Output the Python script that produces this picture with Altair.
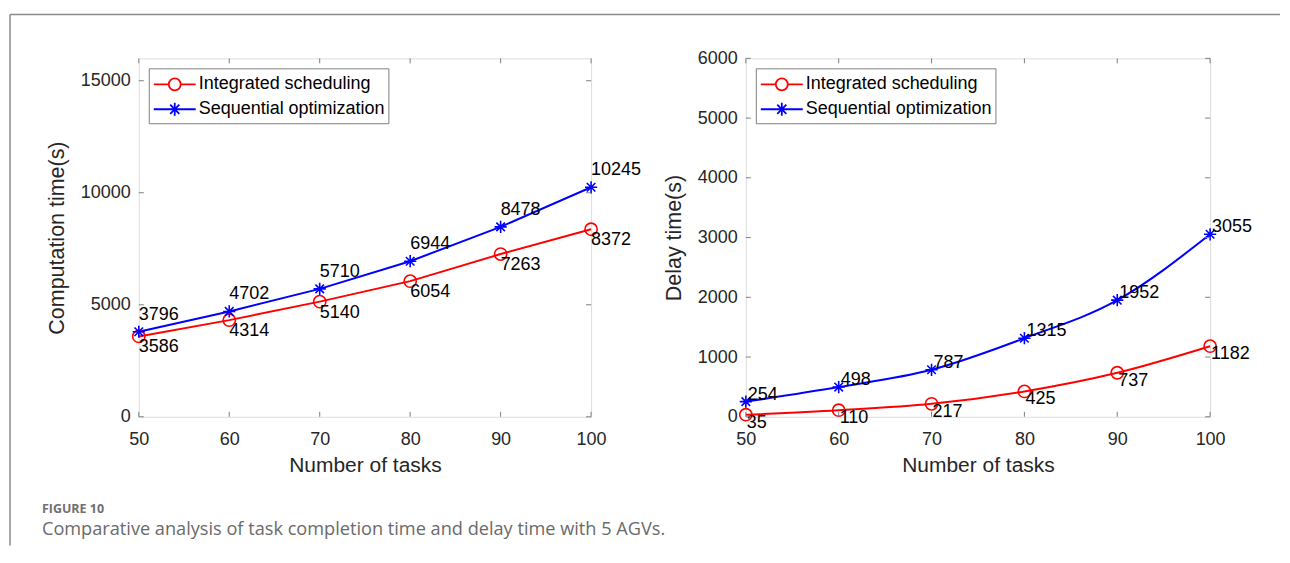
import altair as alt
import pandas as pd

# ---------------- data ----------------
tasks = [50, 60, 70, 80, 90, 100]
series_names = ["Integrated scheduling", "Sequential optimization"]
comp_integrated = [3586, 4314, 5140, 6054, 7263, 8372]
comp_sequential = [3796, 4702, 5710, 6944, 8478, 10245]
delay_integrated = [35, 110, 217, 425, 737, 1182]
delay_sequential = [254, 498, 787, 1315, 1952, 3055]

x_ticks = [50, 60, 70, 80, 90, 100]
comp_y_ticks = [0, 5000, 10000, 15000]
delay_y_ticks = [0, 1000, 2000, 3000, 4000, 5000, 6000]

x_title = "Number of tasks"
comp_y_title = "Computation time(s)"
delay_y_title = "Delay time(s)"
fig_label = "FIGURE 10"
fig_caption = "Comparative analysis of task completion time and delay time with 5 AGVs."

# ---------------- style ----------------
FONT = "Liberation Sans"
AX = "#7f7f7f"
colors = ["#ff0000", "#0000ff"]
H = 359
STAR = "M-1,0H1M0,-1V1M-0.7,-0.7L0.7,0.7M-0.7,0.7L0.7,-0.7"
# legend symbols: unit = 12px (symbolSize 576); line 42px long
LEG_CIRC = ("M-1,0H0.25M1.25,0H2.5M0.25,0A0.5,0.5 0 1 0 1.25,0"
            "A0.5,0.5 0 1 0 0.25,0")
LEG_STAR = ("M-1,0H2.5M0.75,-0.54V0.54M0.37,-0.38L1.13,0.38"
            "M0.37,0.38L1.13,-0.38")


def make_df(int_vals, seq_vals):
    rows = []
    for name, vals in ((series_names[0], int_vals), (series_names[1], seq_vals)):
        for t, v in zip(tasks, vals):
            rows.append({"tasks": t, "value": v, "series": name, "label": str(v)})
    return pd.DataFrame(rows)


def panel(df, y_domain, y_ticks, y_title, width, interp, seq_off, int_off, extra=()):
    xscale = alt.Scale(domain=[50, 100], nice=False, zero=False)
    yscale = alt.Scale(domain=y_domain, nice=False, zero=False)
    x = alt.X("tasks:Q", scale=xscale,
              axis=alt.Axis(values=x_ticks, title=x_title, tickSize=0, domain=False,
                            grid=False, labelPadding=14, titlePadding=6,
                            labelFlush=False, labelOverlap=False,
                            labelFontSize=18, titleFontSize=21, labelFont=FONT,
                            titleFont=FONT, titleFontWeight="normal",
                            labelColor="#262626", titleColor="#262626"))
    y = alt.Y("value:Q", scale=yscale,
              axis=alt.Axis(values=y_ticks, title=y_title, format="d", tickSize=0,
                            domain=False, grid=False, labelPadding=8.5, titlePadding=12,
                            labelFlush=False, labelOverlap=False,
                            labelFontSize=18, titleFontSize=21.5, labelFont=FONT,
                            titleFont=FONT, titleFontWeight="normal",
                            labelColor="#262626", titleColor="#262626"))
    cscale = alt.Scale(domain=series_names, range=colors)
    base = alt.Chart(df)
    int_data = base.transform_filter(alt.datum.series == series_names[0])
    seq_data = base.transform_filter(alt.datum.series == series_names[1])
    legend = alt.Legend(
        title=None, orient="top-left", offset=10, padding=3, strokeColor=AX,
        fillColor="white", labelFontSize=18, labelFont=FONT, labelColor="black",
        labelOffset=20, symbolSize=576, symbolStrokeWidth=1.8, rowPadding=2,
        symbolOffset=1, labelLimit=0, symbolOpacity=1,
    )
    line_int = int_data.mark_line(strokeWidth=2, interpolate=interp,
                                  color=colors[0]).encode(x=x, y=y)
    line_seq = seq_data.mark_line(strokeWidth=2, interpolate=interp,
                                  color=colors[1]).encode(x=x, y=y)
    circles = int_data.mark_point(
        filled=False, size=150, strokeWidth=1.6, opacity=1, shape="circle",
        color=colors[0]).encode(x=x, y=y)
    stars = seq_data.mark_point(
        filled=False, size=150, strokeWidth=1.6, opacity=1, shape=STAR,
        color=colors[1]).encode(x=x, y=y)
    leg = base.transform_filter("false").mark_point(
        filled=False, strokeWidth=1.8, opacity=1).encode(
        x=x, y=y,
        color=alt.Color("series:N", scale=cscale, legend=legend),
        shape=alt.Shape("series:N", scale=alt.Scale(domain=series_names,
                                                     range=[LEG_CIRC, LEG_STAR]),
                        legend=legend))
    seq_labels = seq_data.mark_text(
        align="left", baseline="alphabetic", dx=seq_off[0], dy=seq_off[1],
        fontSize=18, font=FONT, color="black").encode(x=x, y=y, text="label:N")
    int_labels = int_data.mark_text(
        align="left", baseline="alphabetic", dx=int_off[0], dy=int_off[1],
        fontSize=18, font=FONT, color="black").encode(x=x, y=y, text="label:N")

    xt = alt.Chart(pd.DataFrame({"tasks": x_ticks}))
    yt = alt.Chart(pd.DataFrame({"value": y_ticks}))
    ticks = [
        xt.mark_rule(color=AX, strokeWidth=1).encode(x=x, y=alt.value(H), y2=alt.value(H - 5)),
        xt.mark_rule(color=AX, strokeWidth=1).encode(x=x, y=alt.value(0), y2=alt.value(5)),
        yt.mark_rule(color=AX, strokeWidth=1).encode(y=y, x=alt.value(0), x2=alt.value(5)),
        yt.mark_rule(color=AX, strokeWidth=1).encode(y=y, x=alt.value(width), x2=alt.value(width - 5)),
    ]
    return alt.layer(line_int, line_seq, circles, stars, leg, seq_labels, int_labels,
                     *ticks, *extra).properties(width=width, height=H)


one = pd.DataFrame({"t": [0]})
frame = [
    alt.Chart(one).mark_rule(color="#8a8a8a", strokeWidth=1.5).encode(
        x=alt.value(-129), y=alt.value(-44), y2=alt.value(488)),
    alt.Chart(one).mark_rule(color="#8a8a8a", strokeWidth=1.5).encode(
        x=alt.value(-129), x2=alt.value(1143), y=alt.value(-44)),
    alt.Chart(pd.DataFrame({"t": [fig_label]})).mark_text(
        align="left", baseline="alphabetic", font="Open Sans", fontSize=12.5,
        fontWeight="bold", color="#707070").encode(
        x=alt.value(-97), y=alt.value(455), text="t:N"),
    alt.Chart(pd.DataFrame({"t": [fig_caption]})).mark_text(
        align="left", baseline="alphabetic", font="Open Sans", fontSize=18.2,
        color="#6a6a6a").encode(
        x=alt.value(-97), y=alt.value(477), text="t:N"),
]

left = panel(make_df(comp_integrated, comp_sequential), [0, 16000], comp_y_ticks,
             comp_y_title, 453, "linear", (0, -12), (0, 16), extra=frame)
right = panel(make_df(delay_integrated, delay_sequential), [0, 6000], delay_y_ticks,
              delay_y_title, 465, "monotone", (2, -2), (1, 13))

chart = alt.hconcat(left, right, spacing=155, bounds="flush").resolve_scale(
    color="independent", shape="independent"
).resolve_legend(color="independent", shape="independent").properties(
    padding={"left": 0, "top": 4, "right": 0, "bottom": 0},
    background="white",
).configure_view(stroke=AX, strokeWidth=1).configure(font=FONT)

chart.save("out.html", embed_options={"renderer": "svg", "actions": False})
